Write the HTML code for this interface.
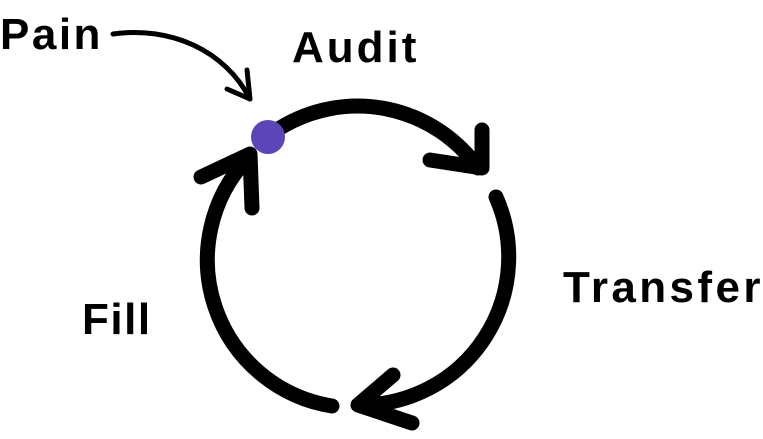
<!DOCTYPE html>
<html><head><style>
body{margin:0;width:763px;height:439px;background:#fff;overflow:hidden}
svg{position:absolute;left:0;top:0}
text{font-family:"Liberation Sans",sans-serif;font-weight:bold;font-size:44px;fill:#000}
</style></head><body>
<svg width="763" height="439" viewBox="0 0 763 439">
<g fill="none" stroke="#000" stroke-linecap="round" stroke-linejoin="round">
<path d="M113 34 C170 26 225 50 250 99" stroke-width="5"/>
<path d="M247 70 L250 99 L227 89" stroke-width="5"/>
<g stroke-width="15">
<path d="M280 128 A148 148 0 0 1 478 168"/>
<path d="M482 130 L482 168 L430 160"/>
<path d="M496 197 A148 148 0 0 1 362 405"/>
<path d="M393 375 L358 405 L412 423"/>
<path d="M332 406 A148 148 0 0 1 248 158"/>
<path d="M201 177 L250 154 L252 208"/>
</g></g>
<circle cx="268" cy="137" r="17" fill="#5b45b9"/>
<text x="0" y="49" letter-spacing="2.5">Pain</text>
<text x="292" y="62" letter-spacing="3">Audit</text>
<text x="563" y="302" letter-spacing="3.4">Transfer</text>
<text x="82" y="334" letter-spacing="1.5">Fill</text>
</svg>
</body></html>
